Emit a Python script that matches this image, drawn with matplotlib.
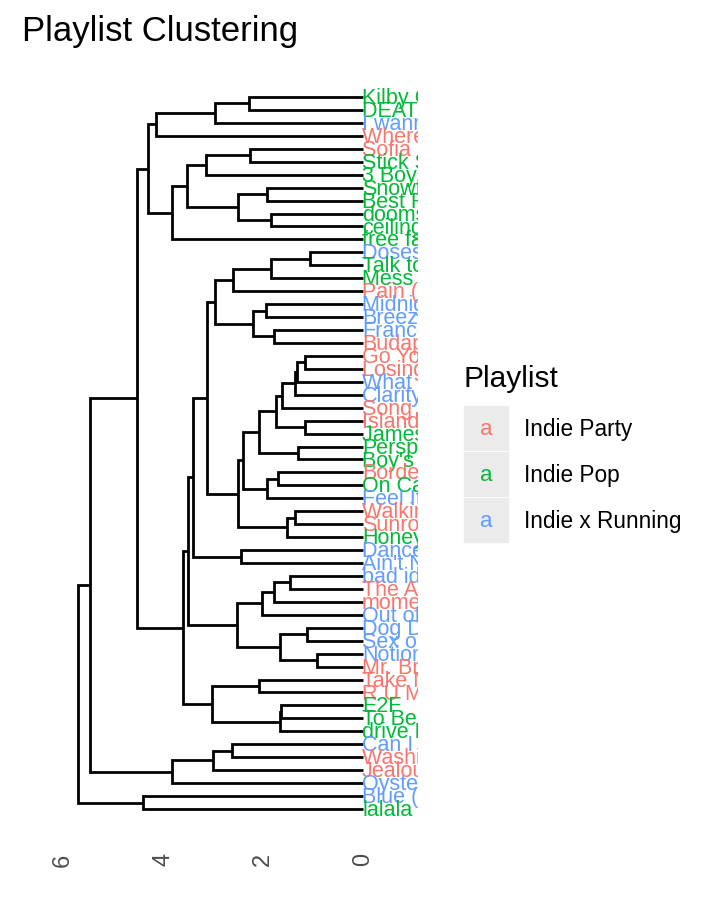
import matplotlib.pyplot as plt
from matplotlib.patches import Rectangle

plt.rcParams['font.family'] = ['Liberation Sans', 'DejaVu Sans']

# leaves, top to bottom, as ordered by the dendrogram
songs = [
    "Kilby Girl", "DEATH BED", "I wanna be yours", "Where'd All the Time Go?",
    "Sofia (Remix)", "Stick Season", "3 Boys", "Snowflake", "Best Friend",
    "doomsday", "ceilings", "free fall", "Doses & Mimosas", "Talk too much",
    "Mess Is Mine", "Pain (Original)", "Midnight City", "Breezeblocks",
    "Francesca", "Budapest", "Go Your Own Way", "Losing My Mind",
    "What You Know", "Clarity", "Song 2", "Island in the Sun", "James Dean",
    "Perspective", "Boy's a liar", "Borderline", "On Call", "Feel It Still",
    "Walking On A Dream", "Sunroof", "Honeybee", "Dance Yrself Clean",
    "Ain't No Rest", "bad idea right?", "The Adults Are Talking", "moments",
    "Out of My League", "Dog Days Are Over", "Sex on Fire", "Notion",
    "Mr. Brightside", "Take Me Out", "R U Mine?", "E2F", "To Be Alone",
    "drive ME crazy!", "Can I Call You Tonight?", "Washing Machine Heart",
    "Jealous", "Oysters in My Pocket", "Blue (Acoustic)", "lalala",
]
playlist = [
    "Indie Pop", "Indie Pop", "Indie x Running", "Indie Party",
    "Indie Party", "Indie Pop", "Indie Pop", "Indie Pop", "Indie Pop",
    "Indie Pop", "Indie Pop", "Indie Pop", "Indie x Running", "Indie Pop",
    "Indie Pop", "Indie Party", "Indie x Running", "Indie x Running",
    "Indie x Running", "Indie Party", "Indie Party", "Indie Party",
    "Indie x Running", "Indie x Running", "Indie Party", "Indie Party", "Indie Pop",
    "Indie Pop", "Indie Pop", "Indie Party", "Indie Pop", "Indie x Running",
    "Indie Party", "Indie Party", "Indie Pop", "Indie x Running",
    "Indie x Running", "Indie x Running", "Indie Party", "Indie Party",
    "Indie x Running", "Indie x Running", "Indie x Running", "Indie x Running",
    "Indie Party", "Indie Party", "Indie Party", "Indie Pop", "Indie Pop",
    "Indie Pop", "Indie x Running", "Indie Party",
    "Indie Party", "Indie x Running", "Indie x Running", "Indie Pop",
]
playlists = ["Indie Party", "Indie Pop", "Indie x Running"]
palette = {"Indie Party": "#F8766D", "Indie Pop": "#00BA38", "Indie x Running": "#619CFF"}

# merges: (upper child, lower child, height); 0-55 are leaves, 56+k is merge k
merges = [
    (0, 1, 2.28), (56, 2, 2.96), (57, 3, 4.14), (4, 5, 2.26), (59, 6, 3.14),
    (7, 8, 1.92), (9, 10, 1.84), (61, 62, 2.50), (60, 63, 3.52), (64, 11, 3.82),
    (58, 65, 4.30), (12, 13, 1.06), (67, 14, 1.84), (68, 15, 2.60), (16, 17, 1.94),
    (18, 19, 1.78), (70, 71, 2.20), (69, 72, 2.96), (20, 21, 1.16), (74, 22, 1.33),
    (75, 23, 1.36), (76, 24, 1.62), (25, 26, 1.16), (77, 78, 1.74), (27, 28, 1.30),
    (79, 80, 2.08), (29, 30, 1.70), (82, 31, 1.92), (81, 83, 2.40), (32, 33, 1.36),
    (85, 34, 1.52), (84, 86, 2.50), (73, 87, 3.12), (35, 36, 2.44), (88, 89, 3.40),
    (37, 38, 1.46), (91, 39, 1.78), (92, 40, 2.02), (41, 42, 1.12), (43, 44, 0.92),
    (94, 95, 1.66), (93, 96, 2.52), (90, 97, 3.50), (45, 46, 2.08), (47, 48, 1.64),
    (100, 49, 1.66), (99, 101, 3.02), (98, 102, 3.60), (66, 103, 4.52), (50, 51, 2.62),
    (105, 52, 3.00), (106, 53, 3.82), (104, 107, 5.46), (54, 55, 4.40), (108, 109, 5.70),
]

W, H = 720, 921
fig = plt.figure(figsize=(W / 100, H / 100), dpi=100)
ax = fig.add_axes([22 / W, (H - 845) / H, (418 - 22) / W, (845 - 61) / H])

n = len(songs)
pos = [i + 1 for i in range(n)]
hgt = [0.0] * n
for a, b, h in merges:
    ax.plot([hgt[a], h, h, hgt[b]], [pos[a], pos[a], pos[b], pos[b]],
            color="black", lw=2.0, solid_capstyle="butt", solid_joinstyle="miter")
    pos.append((pos[a] + pos[b]) / 2)
    hgt.append(h)

for i, (song, pl) in enumerate(zip(songs, playlist)):
    ax.text(0.02, i + 1.12, song, color=palette[pl], fontsize=15.5,
            ha="left", va="center", clip_on=True)

ax.set_xlim(6.82, -1.10)
ax.set_ylim(58.78, -1.78)
ax.set_xticks([6, 4, 2, 0])
ax.set_yticks([])
ax.tick_params(axis="x", length=0, pad=6, labelsize=17, labelcolor="#4D4D4D",
               labelrotation=90)
for s in ax.spines.values():
    s.set_visible(False)

fig.text(22 / W, 1 - 31 / H, "Playlist Clustering", fontsize=25, ha="left", va="center")

# legend
leg = fig.add_axes([0, 0, 1, 1])
leg.set_xlim(0, W)
leg.set_ylim(H, 0)
leg.axis("off")
leg.text(463, 379, "Playlist", fontsize=21.5, ha="left", va="center")
for k, pl in enumerate(playlists):
    y0 = 405 + k * 46
    leg.add_patch(Rectangle((463, y0), 46, 46, facecolor="#EBEBEB",
                            edgecolor="white", lw=0.5))
    leg.text(486, y0 + 24, "a", color=palette[pl], fontsize=16, ha="center", va="center")
    leg.text(524, y0 + 24, pl, fontsize=16.3, ha="left", va="center")

fig.savefig("out.png", dpi=100)
